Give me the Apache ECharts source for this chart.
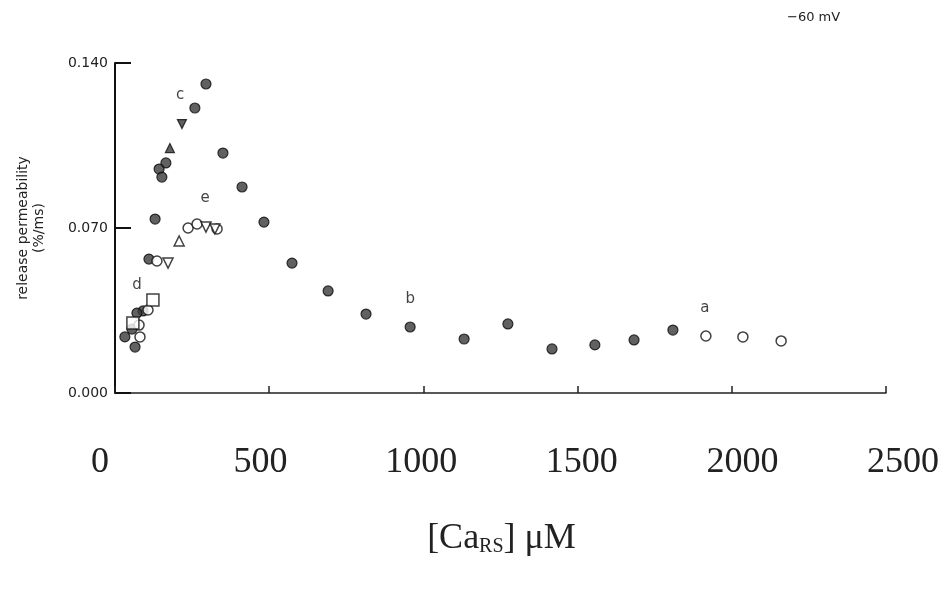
<!DOCTYPE html>
<html>
<head>
<meta charset="utf-8">
<title>release permeability vs [CaRS]</title>
<script src="https://cdn.jsdelivr.net/npm/echarts@6/dist/echarts.min.js"></script>
<style>
  html, body { margin: 0; padding: 0; background: #fff; }
  #chart { width: 942px; height: 596px; }
</style>
</head>
<body>
<div id="chart"></div>
<script>
// [CaRS] (uM), release permeability (%/ms)
var filledCircles = [
  [295, 0.1311], [259, 0.1209], [350, 0.1018], [165, 0.0976], [143, 0.0950],
  [152, 0.0916], [412, 0.0874], [130, 0.0738], [483, 0.0725], [110, 0.0568],
  [574, 0.0551], [91, 0.0348], [71, 0.0339], [55, 0.0271], [32, 0.0238],
  [65, 0.0195], [691, 0.0433], [814, 0.0335], [957, 0.0280], [1132, 0.0229],
  [1274, 0.0293], [1417, 0.0187], [1556, 0.0204], [1683, 0.0225], [1809, 0.0267]
];
var openCircles = [
  [237, 0.0700], [266, 0.0717], [331, 0.0696], [136, 0.0560], [107, 0.0352],
  [78, 0.0288], [81, 0.0238], [1916, 0.0242], [2036, 0.0238], [2160, 0.0221]
];
var openTriDown = [[295, 0.0704], [324, 0.0696], [172, 0.0551]];
var openTriUp = [[208, 0.0645]];
var filledTriDown = [[217, 0.1141]];
var filledTriUp = [[178, 0.1039]];
var openSquares = [[123, 0.0395], [58, 0.0297]];
var letterPts = [[1913, 0.0361], [957, 0.0399], [211, 0.1264], [71, 0.0458], [292, 0.0827]];
var letters = ['a', 'b', 'c', 'd', 'e'];
var yTicks = [0, 0.07, 0.14];
var xTicks = [0, 500, 1000, 1500, 2000, 2500];

var chart = echarts.init(document.getElementById('chart'));

function pts(name, data, symbol, size, filled, rotate) {
  return {
    name: name,
    type: 'scatter',
    data: data,
    symbol: symbol,
    symbolSize: size,
    symbolRotate: rotate || 0,
    itemStyle: filled
      ? { color: '#3a3a3a', borderColor: '#0a0a0a', borderWidth: 1.2 }
      : { color: '#fff', borderColor: '#111', borderWidth: 1.5 },
    z: filled ? 3 : 4
  };
}

var option = {
  backgroundColor: '#fff',
  animation: false,
  title: {
    text: '\u221260 mV',
    left: 782, top: 6,
    textStyle: { fontFamily: 'DejaVu Sans', fontSize: 13, fontWeight: 'normal', color: '#222' }
  },
  grid: [
    { left: 115, right: 56, top: 63, height: 330 },
    { left: 100, right: 37, top: 63, height: 330 }
  ],
  xAxis: [{
    type: 'value', gridIndex: 0,
    min: xTicks[0], max: xTicks[xTicks.length - 1], interval: 500,
    axisLine: { lineStyle: { color: '#222', width: 1.5 } },
    axisTick: { inside: true, length: 7, lineStyle: { color: '#222', width: 1.5 } },
    axisLabel: { show: false },
    splitLine: { show: false }
  }, {
    type: 'value', gridIndex: 1,
    min: xTicks[0], max: xTicks[xTicks.length - 1], interval: 500,
    axisLine: { show: false },
    axisTick: { show: false },
    splitLine: { show: false },
    axisLabel: {
      margin: 52,
      fontFamily: 'Liberation Serif', fontSize: 36, color: '#222',
      formatter: function (v) { return String(v); }
    },
    name: '{a|[Ca}{s|RS}{a|] \u03bcM}',
    nameLocation: 'middle',
    nameGap: 128,
    nameTextStyle: {
      rich: {
        a: { fontFamily: 'Liberation Serif', fontSize: 36, color: '#222' },
        s: { fontFamily: 'Liberation Serif', fontSize: 20, color: '#222', verticalAlign: 'bottom', padding: [14, 0, 0, 0] }
      }
    }
  }],
  yAxis: [{
    type: 'value', gridIndex: 0,
    min: yTicks[0], max: yTicks[yTicks.length - 1], interval: 0.07,
    axisLine: { show: true, lineStyle: { color: '#111', width: 2 } },
    axisTick: { show: true, inside: true, length: 16, lineStyle: { color: '#111', width: 2 } },
    axisLabel: {
      margin: 7,
      fontFamily: 'DejaVu Sans', fontSize: 14, color: '#222',
      formatter: function (v) { return v.toFixed(3); }
    },
    splitLine: { show: false },
    name: 'release permeability\n(%/ms)',
    nameLocation: 'middle',
    nameGap: 68,
    nameRotate: 90,
    nameTextStyle: { fontFamily: 'DejaVu Sans', fontSize: 14, color: '#222', lineHeight: 16, align: 'center' }
  }, {
    type: 'value', gridIndex: 1, min: 0, max: 0.14, show: false
  }],
  series: [
    pts('filled circle', filledCircles, 'circle', 10, true),
    pts('open circle', openCircles, 'circle', 10, false),
    pts('open triangle down', openTriDown, 'triangle', 10, false, 180),
    pts('open triangle up', openTriUp, 'triangle', 10, false),
    pts('filled triangle down', filledTriDown, 'triangle', 9, true, 180),
    pts('filled triangle up', filledTriUp, 'triangle', 9, true),
    pts('open square', openSquares, 'rect', 12, false),
    {
      name: 'letters',
      type: 'scatter',
      data: letterPts.map(function (p, i) { return { value: p, name: letters[i] }; }),
      symbolSize: 0,
      label: {
        show: true, position: 'inside',
        formatter: function (p) { return p.name; },
        fontFamily: 'DejaVu Sans', fontSize: 15, color: '#111'
      },
      z: 5
    }
  ]
};

chart.setOption(option);
</script>
</body>
</html>
